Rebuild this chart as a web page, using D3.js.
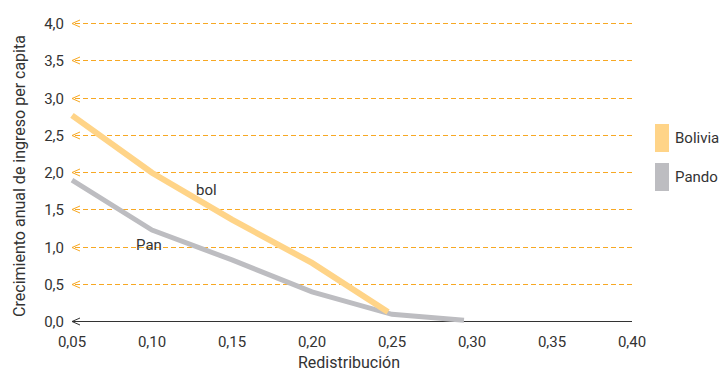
<!DOCTYPE html>
<html><head><meta charset="utf-8">
<script src="https://cdn.jsdelivr.net/npm/d3@7"></script>
<style>body{margin:0;background:#fff}text{font-family:Roboto,sans-serif;fill:#333}</style>
</head><body><svg id="c" width="723" height="372"></svg>
<script>
const xTicks = [0.05,0.10,0.15,0.20,0.25,0.30,0.35,0.40];
const yTicks = [0,0.5,1,1.5,2,2.5,3,3.5,4];
const boliviaX = [0.05,0.10,0.15,0.20,0.2475];
const boliviaY = [2.76,1.99,1.36,0.78,0.12];
const pandoX = [0.05,0.10,0.15,0.20,0.25,0.295];
const pandoY = [1.89,1.22,0.82,0.39,0.09,0.01];
const seriesNames = ["Bolivia","Pando"];
const seriesColors = ["#ffd488","#bdbdc1"];

const svg = d3.select("#c");
const x = d3.scaleLinear().domain([0.05,0.40]).range([72,632]);
const y = d3.scaleLinear().domain([0,4]).range([321,23]);

const g = svg.append("g");
yTicks.forEach(t=>{
  const yy = Math.round(y(t))+0.5;
  if (t>0) g.append("line").attr("x1",x(0.05)+3).attr("x2",x(0.40)).attr("y1",yy).attr("y2",yy)
    .attr("stroke","#f7a823").attr("stroke-width",1).attr("stroke-dasharray","5,3");
  else g.append("line").attr("x1",x(0.05)).attr("x2",x(0.40)).attr("y1",yy).attr("y2",yy)
    .attr("stroke","#333").attr("stroke-width",1.2);
  g.append("path").attr("d",`M${x(0.05)+8},${yy-3.5} L${x(0.05)},${yy} L${x(0.05)+8},${yy+3.5}`)
    .attr("fill","none").attr("stroke",t>0?"#f7a823":"#333").attr("stroke-width",1);
  g.append("text").attr("x",64).attr("y",yy).attr("dy","0.35em").attr("text-anchor","end")
    .attr("font-size",15).text(t.toFixed(1).replace(".",","));
});
xTicks.forEach(t=>{
  g.append("text").attr("x",x(t)).attr("y",347).attr("text-anchor","middle")
    .attr("font-size",15).text(t.toFixed(2).replace(".",","));
});

const line = d3.line().x(d=>x(d[0])).y(d=>y(d[1]));
svg.append("path").datum(pandoX.map((v,i)=>[v,pandoY[i]])).attr("d",line)
  .attr("fill","none").attr("stroke",seriesColors[1]).attr("stroke-width",5);
svg.append("path").datum(boliviaX.map((v,i)=>[v,boliviaY[i]])).attr("d",line)
  .attr("fill","none").attr("stroke",seriesColors[0]).attr("stroke-width",6);

svg.append("text").attr("x",196).attr("y",195).attr("font-size",15).text("bol");
svg.append("text").attr("x",136).attr("y",250).attr("font-size",15).text("Pan");

svg.append("text").attr("transform","translate(25,176) rotate(-90)").attr("text-anchor","middle")
  .attr("font-size",16).text("Crecimiento anual de ingreso per capita");
svg.append("text").attr("x",349).attr("y",368).attr("text-anchor","middle")
  .attr("font-size",16).text("Redistribución");

seriesNames.forEach((n,i)=>{
  const yy = 124 + i*39;
  svg.append("rect").attr("x",655).attr("y",yy).attr("width",14).attr("height",28).attr("fill",seriesColors[i]);
  svg.append("text").attr("x",675).attr("y",yy+14).attr("dy","0.35em").attr("font-size",15).text(n);
});
</script></body></html>
